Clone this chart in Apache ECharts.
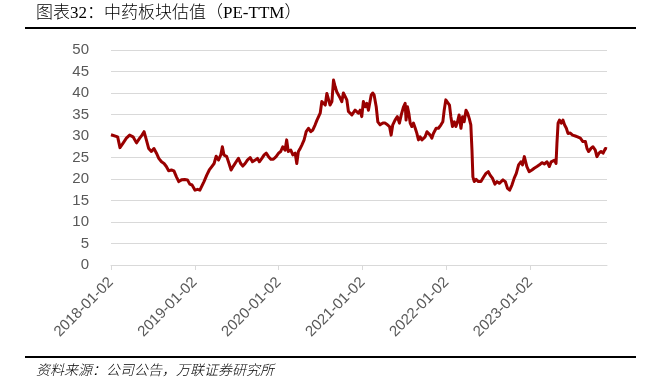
<!DOCTYPE html>
<html>
<head>
<meta charset="utf-8">
<script src="https://cdn.jsdelivr.net/npm/echarts@6/dist/echarts.min.js"></script>
<style>
html,body{margin:0;padding:0;background:#fff;}
#chart{width:646px;height:386px;}
</style>
</head>
<body>
<div id="chart"></div>
<script>
const titleText = '图表32：中药板块估值（PE-TTM）';
const sourceText = '资料来源：公司公告，万联证券研究所';
const yTicks = [0, 5, 10, 15, 20, 25, 30, 35, 40, 45, 50];
const xTickLabels = ['2018-01-02', '2019-01-02', '2020-01-02', '2021-01-02', '2022-01-02', '2023-01-02'];
const xMin = '2018-01-02';
const xMax = '2023-12-02';

const dates = [
 '2018-01-02','2018-01-31','2018-02-10','2018-02-23','2018-03-10','2018-03-24','2018-04-08','2018-04-23','2018-05-07','2018-05-17',
 '2018-05-26','2018-06-05','2018-06-15','2018-06-27','2018-07-08','2018-07-19','2018-07-29','2018-08-10','2018-08-21','2018-08-31',
 '2018-09-10','2018-09-22','2018-10-03','2018-10-14','2018-10-24','2018-11-05','2018-11-19','2018-12-01','2018-12-11','2018-12-21',
 '2019-01-03','2019-01-14','2019-01-24','2019-02-01','2019-02-11','2019-02-23','2019-03-06','2019-03-17','2019-03-27','2019-04-05',
 '2019-04-15','2019-04-25','2019-05-02','2019-05-09','2019-05-21','2019-05-31','2019-06-09','2019-06-19','2019-07-01','2019-07-11',
 '2019-07-21','2019-07-30','2019-08-09','2019-08-19','2019-08-31','2019-09-10','2019-09-22','2019-10-02','2019-10-10','2019-10-21',
 '2019-10-31','2019-11-09','2019-11-19','2019-11-29','2019-12-10','2019-12-22','2020-01-02','2020-01-11','2020-01-20','2020-01-30',
 '2020-02-06','2020-02-13','2020-02-24','2020-03-04','2020-03-14','2020-03-21','2020-03-28','2020-04-04','2020-04-12','2020-04-22',
 '2020-05-01','2020-05-11','2020-05-21','2020-05-30','2020-06-09','2020-06-17','2020-06-23','2020-07-01','2020-07-08','2020-07-15',
 '2020-07-23','2020-07-30','2020-08-06','2020-08-13','2020-08-21','2020-08-28','2020-09-04','2020-09-11','2020-09-18','2020-09-26',
 '2020-10-03','2020-10-10','2020-10-17','2020-10-25','2020-11-01','2020-11-08','2020-11-16','2020-11-23','2020-11-30','2020-12-07',
 '2020-12-14','2020-12-22','2020-12-29','2021-01-05','2021-01-13','2021-01-20','2021-01-27','2021-02-03','2021-02-08','2021-02-15',
 '2021-02-21','2021-03-02','2021-03-09','2021-03-19','2021-03-31','2021-04-10','2021-04-20','2021-04-29','2021-05-06','2021-05-13',
 '2021-05-23','2021-06-02','2021-06-11','2021-06-19','2021-06-29','2021-07-06','2021-07-10','2021-07-16','2021-07-22','2021-07-28',
 '2021-08-04','2021-08-11','2021-08-19','2021-08-26','2021-09-02','2021-09-09','2021-09-17','2021-09-24','2021-10-01','2021-10-09',
 '2021-10-16','2021-10-23','2021-10-30','2021-11-06','2021-11-18','2021-11-28','2021-12-09','2021-12-17','2021-12-23','2021-12-30',
 '2022-01-06','2022-01-15','2022-01-21','2022-01-28','2022-02-05','2022-02-12','2022-02-19','2022-02-26','2022-03-06','2022-03-13',
 '2022-03-20','2022-03-28','2022-04-04','2022-04-11','2022-04-18','2022-04-23','2022-04-27','2022-05-03','2022-05-11','2022-05-21',
 '2022-06-01','2022-06-12','2022-06-23','2022-07-03','2022-07-11','2022-07-21','2022-08-01','2022-08-10','2022-08-20','2022-08-24',
 '2022-09-05','2022-09-15','2022-09-25','2022-10-04','2022-10-14','2022-10-24','2022-11-02','2022-11-12','2022-11-22','2022-11-29',
 '2022-12-07','2022-12-12','2022-12-18','2022-12-28','2023-01-09','2023-01-19','2023-01-31','2023-02-11','2023-02-22','2023-03-04',
 '2023-03-16','2023-03-26','2023-04-03','2023-04-11','2023-04-18','2023-04-24','2023-04-28','2023-05-03','2023-05-09','2023-05-17',
 '2023-05-24','2023-05-31','2023-06-08','2023-06-15','2023-06-25','2023-07-05','2023-07-17','2023-07-27','2023-08-08','2023-08-19',
 '2023-08-30','2023-09-06','2023-09-13','2023-09-23','2023-10-02','2023-10-12','2023-10-19','2023-10-28','2023-11-06','2023-11-15',
 '2023-11-25','2023-12-02'
];
const peTTM = [
 30.3,29.8,27.3,28.3,29.5,30.2,29.8,28.4,29.5,30.2,
 31.0,29.1,27.1,26.4,27.1,26.0,24.8,24.0,23.6,22.9,
 21.9,22.1,21.9,20.5,19.4,19.8,19.9,19.8,18.8,18.6,
 17.4,17.6,17.4,17.8,19.4,20.9,22.1,22.9,23.6,25.3,
 24.4,25.6,27.5,25.6,25.2,23.6,22.1,23.0,24.0,24.8,
 23.6,23.0,23.6,24.4,25.0,24.0,24.4,24.8,24.0,24.8,
 25.6,26.0,25.2,24.6,24.6,25.2,26.0,26.4,27.5,26.7,
 29.1,26.4,26.7,25.6,26.0,23.6,26.4,27.0,27.9,29.1,
 31.0,31.8,31.0,31.4,32.6,33.7,33.7,35.3,38.0,38.4,
 37.2,39.9,39.5,37.2,38.0,43.0,41.5,40.3,40.7,38.8,
 38.0,40.0,40.3,38.4,35.7,35.3,34.9,35.3,36.0,35.7,
 35.3,36.0,34.5,38.0,36.8,37.6,36.0,36.4,39.5,40.0,
 39.5,36.8,33.3,32.6,33.0,33.0,32.6,32.2,30.2,32.6,
 33.7,34.5,33.0,34.9,36.8,37.6,33.7,36.8,35.3,33.0,
 32.2,33.0,31.8,30.6,29.1,29.8,29.1,29.5,29.8,31.0,
 31.4,30.2,29.5,30.6,31.8,31.8,32.6,33.3,36.0,38.4,
 38.8,37.2,34.5,32.2,33.3,32.2,33.3,34.9,31.8,34.5,
 33.3,36.0,35.3,34.1,32.6,26.7,20.5,19.4,19.9,19.4,
 19.4,20.4,21.3,21.7,20.9,20.2,18.8,19.4,19.0,19.4,
 19.8,19.4,17.8,17.4,18.6,20.2,21.3,23.3,24.0,23.3,
 25.2,24.8,22.9,21.7,22.1,22.5,22.9,23.3,23.8,23.5,
 24.0,22.9,24.0,23.6,24.4,23.6,28.3,33.0,33.7,33.0,
 33.7,32.6,31.8,30.6,30.7,30.2,30.0,29.8,29.5,28.7,
 28.7,27.1,26.4,27.1,27.5,26.7,25.2,26.0,26.4,26.0,
 27.1,27.0
];

function toTs(s) {
  const p = s.split('-').map(Number);
  return Date.UTC(p[0], p[1] - 1, p[2]);
}
const seriesData = dates.map((d, i) => [toTs(d), peTTM[i]]);
const xTickValues = xTickLabels.map(toTs);
function fmt(v) {
  const i = xTickValues.indexOf(v);
  return i >= 0 ? xTickLabels[i] : '';
}

const chart = echarts.init(document.getElementById('chart'), null, {renderer: 'canvas'});
chart.setOption({
  animation: false,
  backgroundColor: '#ffffff',
  grid: {left: 111, right: 39, top: 50, bottom: 121},
  xAxis: {
    type: 'value',
    min: toTs(xMin),
    max: toTs(xMax),
    axisLine: {show: true, lineStyle: {color: '#d9d9d9', width: 1}},
    axisTick: {show: true, customValues: xTickValues, length: 5, lineStyle: {color: '#d9d9d9'}},
    axisLabel: {
      customValues: xTickValues,
      rotate: 45,
      margin: 15,
      color: '#595959',
      fontSize: 15,
      fontFamily: 'Liberation Sans, Arial, sans-serif',
      formatter: function (v) { return fmt(v); }
    },
    splitLine: {show: false}
  },
  yAxis: {
    type: 'value',
    min: 0,
    max: 50,
    interval: 5,
    axisLine: {show: false},
    axisTick: {show: false},
    axisLabel: {
      color: '#595959',
      fontSize: 15,
      margin: 22,
      fontFamily: 'Liberation Sans, Arial, sans-serif'
    },
    splitLine: {lineStyle: {color: '#d9d9d9', width: 1}}
  },
  series: [{
    type: 'line',
    data: seriesData,
    showSymbol: false,
    symbol: 'none',
    lineStyle: {color: '#990000', width: 3, join: 'round'},
    itemStyle: {color: '#990000'}
  }],
  graphic: [
    {type: 'text', left: 36, top: 5, style: {text: titleText, font: '300 17px "Liberation Serif", "Noto Sans CJK SC", serif', fill: '#000'}},
    {type: 'rect', shape: {x: 25, y: 27, width: 611, height: 2}, style: {fill: '#000'}},
    {type: 'rect', shape: {x: 25, y: 356, width: 611, height: 2}, style: {fill: '#000'}},
    {type: 'text', left: 36, top: 363, style: {text: sourceText, font: 'italic 300 14px "Noto Sans CJK SC", sans-serif', fill: '#000'}}
  ]
});
</script>
</body>
</html>
